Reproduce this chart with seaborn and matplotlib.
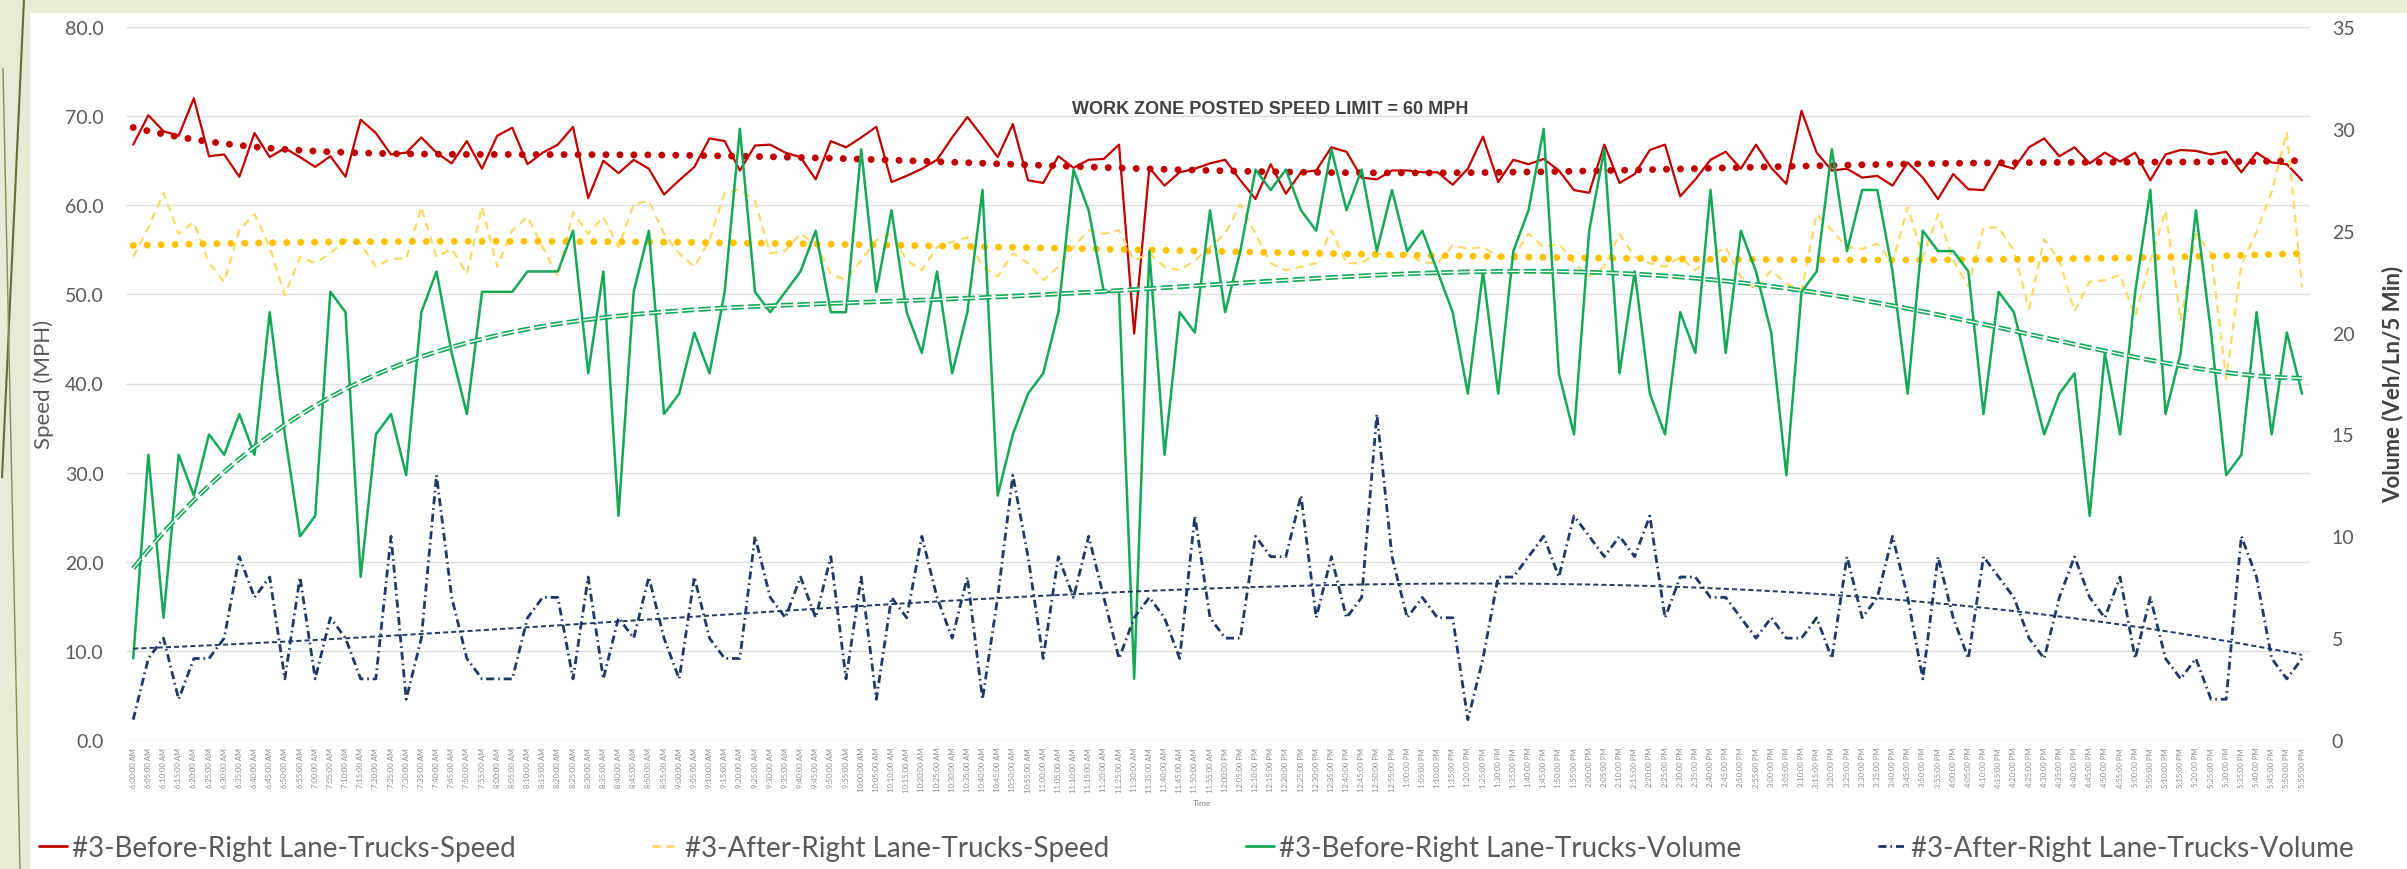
import numpy as np
import pandas as pd
import matplotlib
matplotlib.use('Agg')
import matplotlib.pyplot as plt
import seaborn as sns
from matplotlib.patches import Rectangle
from matplotlib.lines import Line2D

# time of day, 5 minute bins
times = [t.strftime('%I:%M:%S %p').lstrip('0')
         for t in pd.date_range('2020-01-01 06:00', periods=144, freq='5min')]

before_speed = [66.8, 70.1, 68.3, 67.8, 72.0, 65.5, 65.7, 63.2, 68.1, 65.4,
                66.4, 65.4, 64.3, 65.5, 63.2, 69.6, 68.1, 65.7, 65.9, 67.6,
                65.9, 64.7, 67.2, 64.1, 67.8, 68.7, 64.6, 65.9, 66.8, 68.8,
                60.8, 65.0, 63.6, 65.1, 64.1, 61.2, 62.8, 64.3, 67.5, 67.2,
                63.9, 66.7, 66.8, 65.9, 65.4, 62.9, 67.2, 66.5, 67.6, 68.8,
                62.6, 63.3, 64.1, 65.1, 67.6, 69.9, 67.7, 65.4, 69.1, 62.8,
                62.5, 65.5, 64.2, 65.1, 65.2, 66.8, 45.6, 64.2, 62.2, 63.7,
                64.1, 64.7, 65.1, 62.8, 60.7, 64.6, 61.3, 63.7, 63.9, 66.5,
                66.0, 63.1, 62.9, 63.9, 63.9, 63.7, 63.7, 62.3, 64.1, 67.7,
                62.6, 65.1, 64.6, 65.2, 63.9, 61.7, 61.4, 66.8, 62.5, 63.5,
                66.2, 66.8, 61.0, 62.9, 65.1, 66.0, 64.1, 66.8, 64.2, 62.4,
                70.6, 65.9, 63.9, 64.1, 63.1, 63.3, 62.2, 64.8, 63.1, 60.7,
                63.5, 61.8, 61.7, 64.6, 64.1, 66.5, 67.5, 65.5, 66.5, 64.7,
                65.9, 64.9, 65.9, 62.8, 65.7, 66.2, 66.1, 65.7, 66.0, 63.7,
                65.9, 64.8, 64.6, 62.8]

after_speed = [54.2, 57.5, 61.4, 56.8, 58.1, 53.5, 51.4, 57.2, 59.0, 55.3,
               49.9, 54.2, 53.5, 54.6, 56.1, 55.7, 53.1, 54.0, 54.0, 59.8,
               54.2, 55.1, 52.3, 59.8, 53.1, 57.2, 58.7, 55.3, 52.0, 59.2,
               56.8, 58.7, 55.3, 60.1, 60.5, 56.8, 54.6, 53.1, 56.1, 61.4,
               61.8, 60.5, 54.6, 54.9, 56.8, 55.7, 52.3, 51.6, 53.8, 56.1,
               56.8, 53.8, 52.7, 55.3, 55.9, 56.4, 53.1, 52.0, 54.6, 53.5,
               51.6, 53.1, 55.3, 57.2, 56.8, 57.2, 53.8, 54.6, 53.1, 52.7,
               53.8, 55.3, 56.8, 60.1, 56.8, 53.5, 52.7, 53.1, 53.5, 57.2,
               53.5, 53.5, 54.6, 54.2, 54.6, 53.6, 53.5, 55.5, 55.1, 55.3,
               54.2, 54.2, 56.8, 55.3, 55.7, 53.5, 52.0, 53.1, 56.8, 54.2,
               53.5, 53.1, 54.2, 52.7, 54.2, 55.3, 52.0, 50.5, 52.7, 51.2,
               50.5, 59.0, 57.2, 55.3, 55.1, 55.7, 53.5, 59.8, 54.2, 59.0,
               53.8, 50.9, 57.5, 57.5, 54.9, 48.4, 56.2, 53.8, 48.1, 51.4,
               51.6, 52.2, 47.5, 53.8, 59.4, 47.0, 56.8, 54.6, 40.5, 53.3,
               57.0, 61.5, 68.2, 50.8]

before_vol = [4, 14, 6, 14, 12, 15, 14, 16, 14, 21, 15, 10, 11, 22, 21, 8, 15, 16, 13, 21,
              23, 19, 16, 22, 22, 22, 23, 23, 23, 25, 18, 23, 11, 22, 25, 16, 17, 20, 18, 22,
              30, 22, 21, 22, 23, 25, 21, 21, 29, 22, 26, 21, 19, 23, 18, 21, 27, 12, 15, 17,
              18, 21, 28, 26, 22, 22, 3, 24, 14, 21, 20, 26, 21, 24, 28, 27, 28, 26, 25, 29,
              26, 28, 24, 27, 24, 25, 23, 21, 17, 23, 17, 24, 26, 30, 18, 15, 25, 29, 18, 23,
              17, 15, 21, 19, 27, 19, 25, 23, 20, 13, 22, 23, 29, 24, 27, 27, 23, 17, 25, 24,
              24, 23, 16, 22, 21, 18, 15, 17, 18, 11, 19, 15, 22, 27, 16, 19, 26, 20, 13, 14,
              21, 15, 20, 17]

after_vol = [1, 4, 5, 2, 4, 4, 5, 9, 7, 8, 3, 8, 3, 6, 5, 3, 3, 10, 2, 5,
             13, 7, 4, 3, 3, 3, 6, 7, 7, 3, 8, 3, 6, 5, 8, 5, 3, 8, 5, 4,
             4, 10, 7, 6, 8, 6, 9, 3, 8, 2, 7, 6, 10, 7, 5, 8, 2, 7, 13, 9,
             4, 9, 7, 10, 7, 4, 6, 7, 6, 4, 11, 6, 5, 5, 10, 9, 9, 12, 6, 9,
             6, 7, 16, 9, 6, 7, 6, 6, 1, 4, 8, 8, 9, 10, 8, 11, 10, 9, 10, 9,
             11, 6, 8, 8, 7, 7, 6, 5, 6, 5, 5, 6, 4, 9, 6, 7, 10, 7, 3, 9,
             6, 4, 9, 8, 7, 5, 4, 7, 9, 7, 6, 8, 4, 7, 4, 3, 4, 2, 2, 10,
             8, 4, 3, 4]

labels = ['#3-Before-Right Lane-Trucks-Speed', '#3-After-Right Lane-Trucks-Speed',
          '#3-Before-Right Lane-Trucks-Volume', '#3-After-Right Lane-Trucks-Volume']

df = pd.DataFrame({'pos': np.arange(len(times)), 'time': times,
                   'before_speed': before_speed, 'after_speed': after_speed,
                   'before_vol': before_vol, 'after_vol': after_vol})


def trend(col, deg):
    # polynomial trendline like excel's
    x = (df['pos'] + 1) / len(df)
    return np.polyval(np.polyfit(x, df[col], deg), x)


sns.set_style('white')
plt.rcParams['font.family'] = ['Lato', 'DejaVu Sans']

W, H = 2407, 870
fig = plt.figure(figsize=(W / 100, H / 100), dpi=100)
fig.patch.set_facecolor('#E6ECD6')
fig.patches.append(Rectangle((30 / W, 0), 1, (H - 14) / H, transform=fig.transFigure,
                             facecolor='white', edgecolor='none', zorder=-5))
# decorative slide strokes on the left edge
fig.add_artist(Line2D([24 / W, 2 / W], [1.0, 0.45], color='#6B6B3A', lw=1.5, zorder=-4))
fig.add_artist(Line2D([3 / W, 20 / W], [0.92, 0.0], color='#8A8A55', lw=1.0, zorder=-4))

ax = fig.add_axes([125.6 / W, 129 / H, 2184 / W, 713 / H])
ax.set_facecolor('none')
ax2 = ax.twinx()
ax2.set_facecolor('none')

red, yellow, gold = '#C00000', '#FFD966', '#FFC000'
green, navy = '#14A857', '#1F3864'

sns.lineplot(data=df, x='pos', y='before_speed', ax=ax, color=red, lw=1.6, legend=False)
sns.lineplot(data=df, x='pos', y='after_speed', ax=ax, color=yellow, lw=1.6,
             linestyle=(0, (3.6, 2.6)), legend=False)
ax.plot(df['pos'], trend('before_speed', 6), color=red, lw=5, linestyle=(0, (0.01, 2.0)),
        dash_capstyle='round', zorder=3)
ax.plot(df['pos'], trend('after_speed', 3), color=gold, lw=5, linestyle=(0, (0.01, 2.0)),
        dash_capstyle='round', zorder=3)

sns.lineplot(data=df, x='pos', y='before_vol', ax=ax2, color=green, lw=1.8, legend=False)
sns.lineplot(data=df, x='pos', y='after_vol', ax=ax2, color=navy, lw=2.0,
             linestyle=(0, (2.9, 1.4, 0.6, 1.4)), legend=False)
gt = trend('before_vol', 6)
ax2.plot(df['pos'], gt, color=green, lw=3.4, linestyle=(0, (2.6, 0.9)))
ax2.plot(df['pos'], gt, color='white', lw=1.0, linestyle=(0, (8.84, 3.06)))
ax2.plot(df['pos'], trend('after_vol', 3), color=navy, lw=1.4, linestyle=(0, (2.6, 1.6)))

ax.set_xlim(-0.5, len(times) - 0.5)
ax.set_ylim(0, 80)
ax2.set_ylim(0, 35)
ax.set_yticks(np.arange(0, 81, 10))
ax.set_yticklabels([f'{v:.1f}' for v in range(0, 81, 10)])
ax2.set_yticks(np.arange(0, 36, 5))
ax.set_xticks(df['pos'])
ax.set_xticklabels(times, rotation=90, fontsize=5.5, color='#8C8C8C')

ax.yaxis.grid(True, color='#DDDDDD', lw=1.0)
ax.xaxis.grid(False)
ax2.grid(False)
for a in (ax, ax2):
    for s in a.spines.values():
        s.set_visible(False)
ax.tick_params(axis='y', length=0, pad=16, labelsize=14, labelcolor='#595959')
ax2.tick_params(axis='y', length=0, pad=16, labelsize=14, labelcolor='#595959')
ax.tick_params(axis='x', length=0, pad=5)

ax.set_xlabel('')
ax.set_ylabel('Speed (MPH)', fontsize=16, color='#595959')
ax.yaxis.set_label_coords(-0.033, 0.5)
ax2.set_ylabel('Volume (Veh/Ln/5 Min)', fontsize=16, color='#404040', fontweight='bold')
ax2.yaxis.set_label_coords(1.033, 0.5)

fig.text(1202 / W, (H - 804) / H, 'Time', fontsize=6, color='#7F7F7F', ha='center', va='center')
ax.text(75.0, 70.8, 'WORK ZONE POSTED SPEED LIMIT = 60 MPH', fontsize=13, fontweight='bold',
        color='#404040', ha='center', va='center',
        family=['Liberation Sans Narrow', 'Liberation Sans'])

handles = [Line2D([], [], color=red, lw=2),
           Line2D([], [], color=yellow, lw=2, linestyle=(0, (3, 2))),
           Line2D([], [], color=green, lw=2),
           Line2D([], [], color=navy, lw=2, linestyle=(0, (2.9, 1.4, 0.6, 1.4)))]
fig.legend(handles, labels, loc='center', bbox_to_anchor=(0.497, 21 / H), ncol=4,
           frameon=False, fontsize=20, labelcolor='#595959', handlelength=1.0,
           handletextpad=0.2, columnspacing=4.9)

fig.savefig('out.png', dpi=100, facecolor=fig.get_facecolor())
